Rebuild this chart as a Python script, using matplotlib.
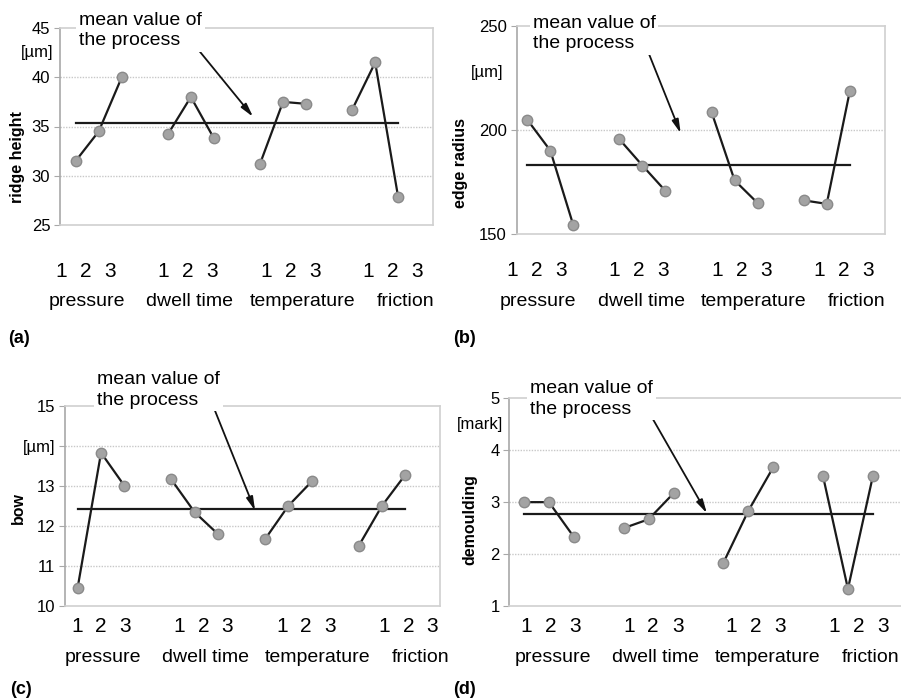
import numpy as np
import matplotlib.pyplot as plt

plt.rcParams['font.family'] = ['Liberation Sans', 'DejaVu Sans']

W, H = 901, 699

levels = ['1', '2', '3']
factors = ['pressure', 'dwell time', 'temperature', 'friction']

ridge_height = [31.5, 34.5, 40.0, 34.2, 38.0, 33.8, 31.2, 37.5, 37.3, 36.7, 41.5, 27.8]
edge_radius = [205.0, 190.2, 154.3, 195.6, 183.0, 170.8, 208.7, 175.9, 165.0, 166.3, 164.6, 218.6]
bow = [10.45, 13.83, 13.0, 13.16, 12.34, 11.79, 11.66, 12.5, 13.11, 11.49, 12.5, 13.28]
demoulding = [3.0, 3.0, 2.33, 2.5, 2.67, 3.17, 1.83, 2.83, 3.67, 3.5, 1.33, 3.5]


def px(x, y):
    # pixel position (top-left origin) -> figure fraction
    return x / W, 1 - y / H


panels = [
    dict(data=ridge_height, letter='(a)', ylabel='ridge height',
         box=(60, 28, 433, 225), xlim=(-0.68, 15.51), ylim=(25, 45),
         yticks=[25, 30, 35, 40, 45], yticklabels=None, grid=[30, 35, 40],
         unit=('[µm]', 53, 53), ylab_pos=(18, 157),
         text_pos=(79, 30.5), tail=(192, 42), head=(7.7, 35.98),
         num=(61, 24.5, 102.5, 272), names=[87, 189, 303, 406], name_y=302,
         letter_pos=(8, 338)),
    dict(data=edge_radius, letter='(b)', ylabel='edge radius',
         box=(516.7, 26, 885, 234.3), xlim=(-0.46, 15.53), ylim=(150, 250),
         yticks=[150, 200, 250], yticklabels=None, grid=[200],
         unit=('[µm]', 503, 72), ylab_pos=(460, 163),
         text_pos=(532.7, 33.5), tail=(647, 49), head=(6.66, 198.5),
         num=(512, 24.5, 102.5, 270), names=[538, 641, 754, 857], name_y=302,
         letter_pos=(453, 338)),
    dict(data=bow, letter='(c)', ylabel='bow',
         box=(65, 406, 440, 605.7), xlim=(-0.54, 15.48), ylim=(10, 15),
         yticks=[10, 11, 12, 13, 14, 15],
         yticklabels=['10', '11', '12', '13', '[µm]', '15'], grid=[11, 12, 13, 14],
         unit=None, ylab_pos=(18, 508),
         text_pos=(97, 390), tail=(210.7, 400), head=(7.58, 12.38),
         num=(77, 24, 102.5, 627), names=[103, 205, 318, 421], name_y=657,
         letter_pos=(10, 689)),
    dict(data=demoulding, letter='(d)', ylabel='demoulding',
         box=(509.3, 398.3, 905, 606), xlim=(-0.59, 15.29), ylim=(1, 5),
         yticks=[1, 2, 3, 4, 5], yticklabels=None, grid=[2, 3, 4],
         unit=('[mark]', 503, 425), ylab_pos=(470, 520),
         text_pos=(530, 399), tail=(646.7, 408.3), head=(7.34, 2.785),
         num=(526, 24.5, 102.7, 627), names=[553, 655, 768, 871], name_y=657,
         letter_pos=(453, 690)),
]

xs = [g * 4 + i for g in range(len(factors)) for i in range(len(levels))]

fig = plt.figure(figsize=(W / 100, H / 100), dpi=100)

for p in panels:
    l, t, r, b = p['box']
    ax = fig.add_axes([l / W, 1 - b / H, (r - l) / W, (b - t) / H])
    ax.set_xlim(*p['xlim'])
    ax.set_ylim(*p['ylim'])
    for s in ['top', 'right', 'bottom']:
        ax.spines[s].set_color('#d0d0d0')
        ax.spines[s].set_linewidth(1.2)
    ax.spines['left'].set_color('#a8a8a8')
    ax.spines['left'].set_linewidth(1.2)
    ax.set_xticks([])
    ax.set_yticks(p['yticks'])
    if p['yticklabels']:
        ax.set_yticklabels(p['yticklabels'])
    ax.tick_params(axis='y', length=4, color='#a8a8a8', labelsize=12, pad=3)
    for g in p['grid']:
        ax.axhline(g, color='#c8c8c8', lw=1, ls=(0, (1, 1)), zorder=0)

    vals = p['data']
    for g in range(len(factors)):
        seg = slice(g * 3, g * 3 + 3)
        ax.plot(xs[seg], vals[seg], color='#1a1a1a', lw=1.6, zorder=3,
                marker='o', ms=7.5, mfc='#a3a3a3', mec='#8a8a8a', mew=1)
    mean = np.mean(vals)
    ax.plot([xs[0], xs[-1]], [mean, mean], color='#1a1a1a', lw=1.6, zorder=2)

    # annotation text and arrow
    tx, ty = px(*p['text_pos'])
    fig.text(tx, ty, 'mean value of\nthe process', fontsize=14, ha='left', va='center',
             linespacing=1.25, zorder=5,
             bbox=dict(facecolor='white', edgecolor='none', pad=2))
    ax.annotate('', xy=p['head'], xycoords='data', xytext=px(*p['tail']),
                textcoords='figure fraction', annotation_clip=False, zorder=6,
                arrowprops=dict(arrowstyle='-|>,head_length=0.8,head_width=0.2',
                                color='#111111', lw=1.3, shrinkA=0, shrinkB=0))

    # y label and unit
    yx, yy = px(*p['ylab_pos'])
    fig.text(yx, yy, p['ylabel'], rotation=90, fontsize=11.5, fontweight='bold',
             ha='center', va='center')
    if p['unit']:
        u, ux, uy = p['unit']
        fx, fy = px(ux, uy)
        fig.text(fx, fy, u, fontsize=12, ha='right', va='center')

    # category labels under each panel
    x0, step, gstep, ny = p['num']
    for g, name in enumerate(factors):
        for i, lev in enumerate(levels):
            fx, fy = px(x0 + g * gstep + i * step, ny)
            fig.text(fx, fy, lev, fontsize=15, ha='center', va='center')
        fx, fy = px(p['names'][g], p['name_y'])
        fig.text(fx, fy, name, fontsize=14, ha='center', va='center')

    lx, ly = px(*p['letter_pos'])
    fig.text(lx, ly, p['letter'], fontsize=13, fontweight='bold', ha='left', va='center')

fig.savefig('out.png', dpi=100, facecolor='white')
